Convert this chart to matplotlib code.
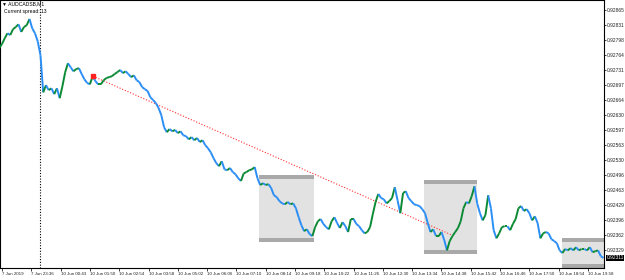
import numpy as np
import matplotlib
matplotlib.use("Agg")
import matplotlib.pyplot as plt
from matplotlib.collections import LineCollection
from matplotlib.patches import Rectangle
import matplotlib.transforms as mtransforms

# close prices, one value every 6 M1 bars (first value at bar -6)
close = [
    0.92780, 0.92789, 0.92802, 0.92813, 0.92809, 0.92822, 0.92827, 0.92833, 0.92816, 0.92827,
    0.92831, 0.92845, 0.92824, 0.92813, 0.92795, 0.92764, 0.92681, 0.92697, 0.92686, 0.92690,
    0.92677, 0.92690, 0.92668, 0.92695, 0.92726, 0.92746, 0.92737, 0.92728, 0.92733, 0.92735,
    0.92722, 0.92710, 0.92702, 0.92699, 0.92717, 0.92706, 0.92699, 0.92699, 0.92708, 0.92713,
    0.92715, 0.92717, 0.92722, 0.92726, 0.92731, 0.92724, 0.92728, 0.92722, 0.92715, 0.92719,
    0.92708, 0.92704, 0.92693, 0.92688, 0.92684, 0.92670, 0.92664, 0.92657, 0.92646, 0.92630,
    0.92603, 0.92592, 0.92599, 0.92594, 0.92597, 0.92590, 0.92594, 0.92585, 0.92583, 0.92576,
    0.92581, 0.92574, 0.92579, 0.92570, 0.92574, 0.92563, 0.92556, 0.92547, 0.92534, 0.92523,
    0.92516, 0.92527, 0.92509, 0.92507, 0.92512, 0.92503, 0.92498, 0.92489, 0.92483, 0.92500,
    0.92503, 0.92507, 0.92509, 0.92514, 0.92489, 0.92474, 0.92478, 0.92474, 0.92476, 0.92467,
    0.92451, 0.92447, 0.92438, 0.92433, 0.92431, 0.92436, 0.92431, 0.92433, 0.92422, 0.92402,
    0.92384, 0.92371, 0.92375, 0.92364, 0.92360, 0.92380, 0.92393, 0.92398, 0.92387, 0.92380,
    0.92375, 0.92393, 0.92402, 0.92389, 0.92378, 0.92391, 0.92382, 0.92369, 0.92398, 0.92398,
    0.92387, 0.92382, 0.92373, 0.92366, 0.92369, 0.92380, 0.92409, 0.92436, 0.92454, 0.92445,
    0.92442, 0.92433, 0.92438, 0.92445, 0.92469, 0.92440, 0.92411, 0.92456, 0.92460, 0.92445,
    0.92438, 0.92431, 0.92429, 0.92427, 0.92420, 0.92411, 0.92389, 0.92369, 0.92375, 0.92360,
    0.92360, 0.92369, 0.92351, 0.92328, 0.92349, 0.92360, 0.92369, 0.92378, 0.92393, 0.92422,
    0.92436, 0.92433, 0.92449, 0.92471, 0.92433, 0.92411, 0.92395, 0.92407, 0.92451, 0.92422,
    0.92373, 0.92355, 0.92366, 0.92380, 0.92382, 0.92382, 0.92373, 0.92387, 0.92398, 0.92422,
    0.92427, 0.92416, 0.92420, 0.92411, 0.92395, 0.92404, 0.92389, 0.92355, 0.92366, 0.92369,
    0.92366, 0.92353, 0.92349, 0.92344, 0.92328, 0.92322, 0.92331, 0.92328, 0.92333, 0.92328,
    0.92335, 0.92328, 0.92331, 0.92331, 0.92328, 0.92335, 0.92324, 0.92326, 0.92328, 0.92315,
    0.92311,
]
bar_step = 6
first_bar = -6

time_ticks = [0, 64, 128, 192, 256, 320, 384, 448, 512, 576, 640, 704, 768,
              832, 896, 960, 1024, 1088, 1152, 1216, 1280]
time_labels = ["7 Jun 2019", "7 Jun 23:36", "10 Jun 00:43", "10 Jun 01:50", "10 Jun 02:54",
               "10 Jun 03:58", "10 Jun 05:02", "10 Jun 06:06", "10 Jun 07:10", "10 Jun 08:14",
               "10 Jun 09:18", "10 Jun 10:22", "10 Jun 11:26", "10 Jun 12:30", "10 Jun 13:34",
               "10 Jun 14:38", "10 Jun 15:42", "10 Jun 16:46", "10 Jun 17:50", "10 Jun 18:54",
               "10 Jun 19:58"]
price_ticks = [0.92865, 0.92831, 0.92798, 0.92764, 0.92731, 0.92697, 0.92664, 0.92630,
               0.92597, 0.92563, 0.92530, 0.92496, 0.92463, 0.92429, 0.92396, 0.92362, 0.92329]

separator_bar = 84          # Monday 00:00
trend_bars = [199, 983]
trend_prices = [0.92717, 0.92362]
# boxes: left bar, right bar, top price, bottom price
boxes = [
    (561, 681, 0.92496, 0.92346),
    (922, 1037, 0.92485, 0.92320),
    (1223, 1340, 0.92355, 0.92288),
]
symbol = "\u25bc AUDCADSB,M1"
spread_text = "Current spread: 13"

up_col = "#0b8a35"
down_col = "#2b8ef5"
small_font = ["Liberation Sans Narrow", "Liberation Sans", "DejaVu Sans"]

close = np.array(close)
bars = first_bar + bar_step * np.arange(len(close))

fig = plt.figure(figsize=(6.25, 2.8), dpi=100)
ax = fig.add_axes([0, 12 / 280, 604 / 625, 268 / 280])
ax.set_xlim(-4.4, 1315)
ax.set_ylim(0.922886, 0.928873)

band = 0.00009
for l, r, t, b in boxes:
    ax.add_patch(Rectangle((l, b), r - l, t - b, facecolor="#e2e2e2", edgecolor="none", zorder=1))
    ax.add_patch(Rectangle((l, t - band), r - l, band, facecolor="#a9a9a9", edgecolor="none", zorder=1))
    ax.add_patch(Rectangle((l, b), r - l, band, facecolor="#a9a9a9", edgecolor="none", zorder=1))

ax.axvline(separator_bar, color="black", lw=0.8, ls=(0, (1, 1.5)), zorder=2)
ax.plot(trend_bars, trend_prices, color="#ff3030", lw=0.8, ls=(0, (1, 1.6)), zorder=2)
ax.plot(trend_bars[0], trend_prices[0], "s", color="#ff2020", ms=2.2, zorder=4)

pts = np.column_stack([bars, close])
segs = np.stack([pts[:-1], pts[1:]], axis=1)
cols = np.where(np.diff(close) >= 0, up_col, down_col)
ax.add_collection(LineCollection(segs, colors=cols, linewidths=1.4, zorder=3))

ax.yaxis.tick_right()
ax.set_yticks(price_ticks)
ax.set_yticklabels(["%.5f" % p for p in price_ticks], family="Liberation Sans", fontsize=3.5)
ax.set_xticks(time_ticks)
ax.set_xticklabels(time_labels, family=small_font, fontsize=3.2, ha="left")
ax.tick_params(axis="y", direction="out", length=1.5, width=0.6, pad=0.8, colors="#222222")
ax.tick_params(axis="x", direction="out", length=2, width=0.6, pad=0.8, colors="#222222")
for s in ax.spines.values():
    s.set_linewidth(0.8)
    s.set_color("black")

trans = mtransforms.blended_transform_factory(ax.transAxes, ax.transData)
ax.text(1.004, close[-1], "%.5f" % close[-1], transform=trans, ha="left", va="center",
        color="white", fontsize=3.5, family="Liberation Sans",
        bbox=dict(facecolor="black", edgecolor="none", pad=0.5), clip_on=False)

ax.text(0.004, 0.996, symbol, transform=ax.transAxes, ha="left", va="top",
        fontsize=3.6, family=["Liberation Sans", "DejaVu Sans"])
ax.text(0.007, 0.965, spread_text, transform=ax.transAxes, ha="left", va="top",
        fontsize=3.6, family="Liberation Sans")

fig.savefig("out.png", dpi=100)
